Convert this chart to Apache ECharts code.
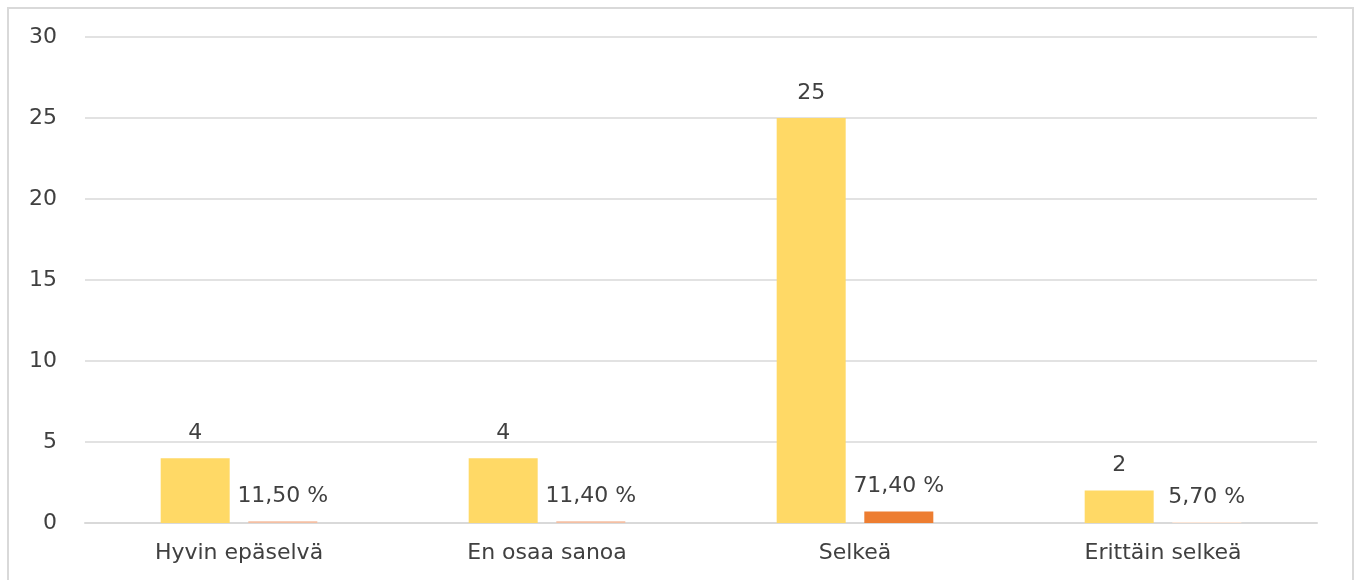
<!DOCTYPE html>
<html>
<head>
<meta charset="utf-8">
<script src="https://cdn.jsdelivr.net/npm/echarts@6/dist/echarts.min.js"></script>
<style>
html,body{margin:0;padding:0;background:#fff;}
#frame{position:absolute;left:7px;top:7px;width:1347px;height:600px;border:2px solid #d9d9d9;border-bottom:none;box-sizing:border-box;}
#chart{position:absolute;left:0;top:0;width:1357px;height:580px;}
</style>
</head>
<body>
<div id="frame"></div>
<div id="chart"></div>
<script>
const categories = ["Hyvin epäselvä", "En osaa sanoa", "Selkeä", "Erittäin selkeä"];
const counts = [4, 4, 25, 2];
const shares = [0.115, 0.114, 0.714, 0.057];
const shareColors = ["#F4BFA3", "#F4BFA3", "#ED7D31", "#FBE5D6"];
const yTicks = { min: 0, max: 30, interval: 5 };

const font = "'DejaVu Sans', sans-serif";
const chart = echarts.init(document.getElementById('chart'), null, { renderer: 'canvas' });
chart.setOption({
  animation: false,
  grid: { left: 85, right: 40, top: 37, bottom: 57, containLabel: false },
  xAxis: {
    type: 'category',
    data: categories,
    axisTick: { show: false },
    axisLine: { lineStyle: { color: '#d9d9d9', width: 2 } },
    axisLabel: { color: '#404040', fontSize: 22, fontFamily: font, margin: 19 }
  },
  yAxis: {
    type: 'value',
    min: yTicks.min, max: yTicks.max, interval: yTicks.interval,
    axisLine: { show: false },
    axisTick: { show: false },
    splitLine: { lineStyle: { color: '#d9d9d9', width: 1.5 } },
    axisLabel: { color: '#404040', fontSize: 22, fontFamily: font, margin: 28 }
  },
  series: [
    {
      type: 'bar',
      data: counts,
      barWidth: 69,
      barGap: '27%',
      itemStyle: { color: '#FFD966' },
      label: { show: true, position: 'top', distance: 14, color: '#404040', fontSize: 22, fontFamily: font }
    },
    {
      type: 'bar',
      data: shares.map((v, i) => ({ value: v, itemStyle: { color: shareColors[i] } })),
      barWidth: 69,
      label: {
        show: true, position: 'top', distance: 14, color: '#404040', fontSize: 22, fontFamily: font,
        formatter: p => (p.value * 100).toFixed(2).replace('.', ',') + ' %'
      }
    }
  ]
});
</script>
</body>
</html>
